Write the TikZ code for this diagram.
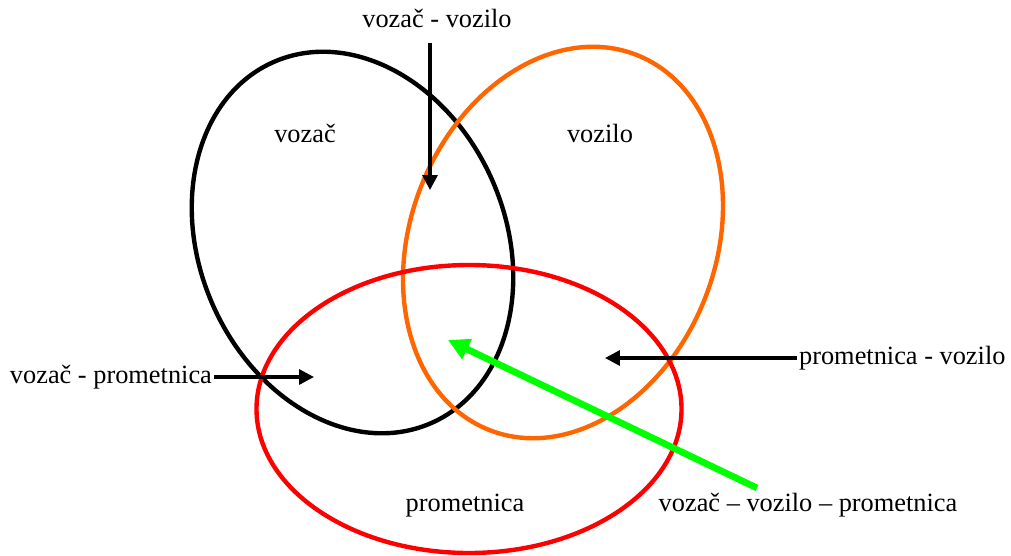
\documentclass[tikz,border=0pt]{standalone}
\usepackage{fontspec}
\setmainfont{Liberation Serif}
\usetikzlibrary{arrows.meta}
\definecolor{vorange}{RGB}{255,102,0}
\definecolor{vgreen}{RGB}{0,255,0}

\begin{document}
\begin{tikzpicture}[x=0.02cm, y=-0.02cm,
    every node/.style={inner sep=1pt, font=\fontsize{15}{18}\selectfont},
    set/.style={line width=2.5pt},
    link/.style={line width=1.9pt, -{Triangle[length=8.5pt,width=8.5pt]}},
    triple/.style={vgreen, line width=3.8pt, -{Triangle[length=12pt,width=12pt]}}]
        \useasboundingbox (0,0) rectangle (1011,555);

        % Sets
        \draw[set, black, rotate around={-66.6:(352.5,242.5)}]
            (352.5,242.5) ellipse [x radius=197, y radius=153];
        \draw[set, vorange, rotate around={68.6:(563,242.5)}]
            (563,242.5) ellipse [x radius=201.5, y radius=152.6];
        \draw[set, red] (469,409) ellipse [x radius=212.5, y radius=144];

        % Set names
        \node (vozac) at (305,133) {vozač};
        \node (vozilo) at (600,133) {vozilo};
        \node (prometnica) at (465,506) {prometnica};

        % Intersections
        \node (vv) at (437,18) {vozač - vozilo};
        \node[anchor=east] (vp) at (214,377) {vozač - prometnica};
        \node[anchor=west] (pv) at (797,358) {prometnica - vozilo};
        \node (vvp) at (808,505) {vozač – vozilo – prometnica};

        \coordinate (vvStart) at (430,43);
        \coordinate (vvEnd) at (430,190);
        \coordinate (vpEnd) at (314,377);
        \coordinate (pvEnd) at (605,358);
        \coordinate (vvpStart) at (757,488);
        \coordinate (vvpEnd) at (448,340);

        \draw[link] (vvStart) -- (vvEnd);
        \draw[link] (vp.east) -- (vpEnd);
        \draw[link] (pv.west) -- (pvEnd);
        \draw[triple] (vvpStart) -- (vvpEnd);
\end{tikzpicture}
\end{document}
